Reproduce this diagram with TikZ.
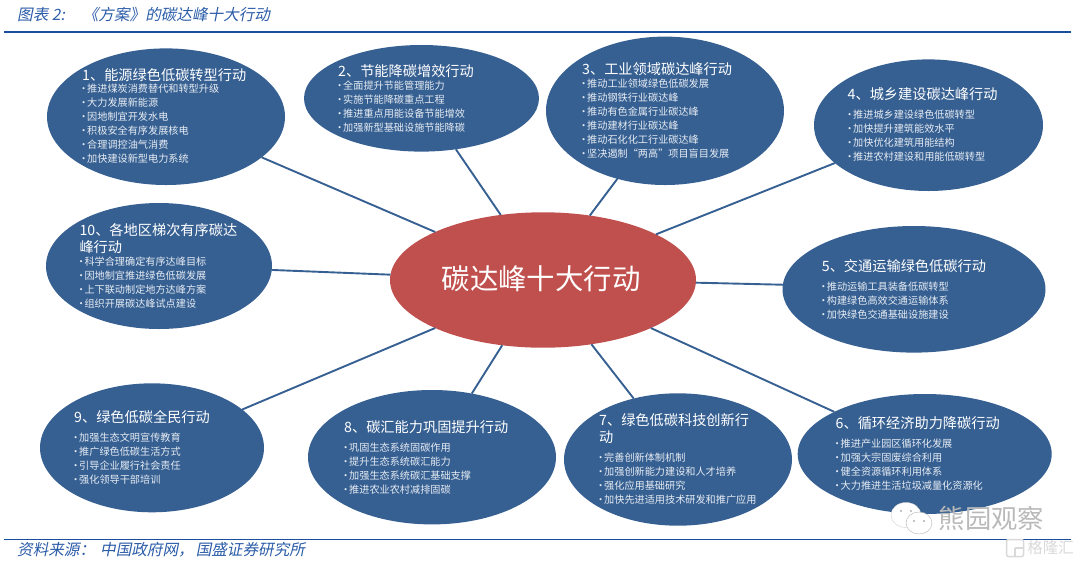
\documentclass[tikz,border=0pt]{standalone}
\usepackage{fontspec}
\setmainfont{Noto Sans CJK SC}
\newfontfamily\slantfont[FakeSlant=0.2]{Noto Sans CJK SC}
\usetikzlibrary{shapes.geometric, positioning}
\definecolor{blobblue}{HTML}{376092}
\definecolor{hubred}{HTML}{C0504D}
\definecolor{ruleblue}{HTML}{1A4F9F}
\definecolor{titleblue}{HTML}{2A5CA8}
\definecolor{bodywhite}{HTML}{E6ECF3}
\newcommand{\bu}{\makebox[5pt][l]{\hspace{-3.5pt}•}}

\begin{document}
\begin{tikzpicture}[x=1pt, y=-1pt,
	action/.style = {ellipse, fill=blobblue, inner sep=0pt, outer sep=0pt},
	hub/.style = {action, fill=hubred},
	headtext/.style = {anchor=west, align=left, inner sep=0pt, text=white, font=\fontsize{14.2}{17}\selectfont},
	bodytext/.style = {anchor=west, align=left, inner sep=0pt, text=bodywhite, font=\fontsize{10.15}{14}\selectfont},
	spoke/.style = {draw=blobblue, line width=1.9pt},
	sheetrule/.style = {draw=ruleblue, line width=1.8pt},
	caption/.style = {anchor=west, inner sep=0pt, text=titleblue, font=\fontsize{15.6}{17}\slantfont}]

\useasboundingbox (0,0) rectangle (1080,566);

% caption and rules
\node[caption] (title) at (17,15) {图表 2:\hspace{18pt}《方案》的碳达峰十大行动};
\coordinate (ruleTL) at (4,32);
\coordinate (ruleTR) at (1071,32);
\coordinate (ruleBL) at (4,539.5);
\coordinate (ruleBR) at (1071,539.5);
\draw[sheetrule] (ruleTL) -- (ruleTR);
\draw[sheetrule] (ruleBL) -- (ruleBR);
\node[caption] (source) at (17,550) {资料来源\char"FF1A\hspace{5pt}中国政府网\char"FF0C\hspace{2pt}国盛证券研究所};

% ellipses
\node[hub, minimum width=306pt, minimum height=135.4pt] (C) at (543,280) {};
\node[action, minimum width=238pt, minimum height=136.6pt] (E1) at (166,116.7) {};
\node[action, minimum width=235pt, minimum height=106.6pt] (E2) at (421.5,98.3) {};
\node[action, minimum width=238pt, minimum height=148.4pt] (E3) at (665,110.8) {};
\node[action, minimum width=229pt, minimum height=131.6pt] (E4) at (928.5,125.2) {};
\node[action, minimum width=263pt, minimum height=126.6pt] (E5) at (914,289.3) {};
\node[action, minimum width=254pt, minimum height=120pt] (E6) at (924.7,454) {};
\node[action, minimum width=228pt, minimum height=132.4pt] (E7) at (678,459.5) {};
\node[action, minimum width=248pt, minimum height=134.4pt] (E8) at (432,457.2) {};
\node[action, minimum width=224pt, minimum height=129pt] (E9) at (152,447.8) {};
\node[action, minimum width=226pt, minimum height=126pt] (E10) at (159,266) {};

% connectors
\draw[spoke] (E1.-23.1) -- (C.156.4);
\draw[spoke] (E2.-56.4) -- (C.123.7);
\draw[spoke] (E3.-125.7) -- (C.54.4);
\draw[spoke] (E4.-158.1) -- (C.22);
\draw[spoke] (E5.178.6) -- (C.-1.4);
\draw[spoke] (E6.155.5) -- (C.-24.5);
\draw[spoke] (E7.126.5) -- (C.-53.1);
\draw[spoke] (E8.58.2) -- (C.-122.2);
\draw[spoke] (E9.23.4) -- (C.-156.8);
\draw[spoke] (E10.-2) -- (C.178);

% centre text
\node[text=white, inner sep=0pt, font=\fontsize{28.4}{32}\selectfont] (Ctext) at (541,278.5) {碳达峰十大行动};

% texts in the ellipses
\node[headtext] (H1) at (82,75) {1、能源绿色低碳转型行动};
\node[bodytext] (B1) at (82,124) {\bu 推进煤炭消费替代和转型升级\\\bu 大力发展新能源\\\bu 因地制宜开发水电\\\bu 积极安全有序发展核电\\\bu 合理调控油气消费\\\bu 加快建设新型电力系统};

\node[headtext] (H2) at (338,70.7) {2、节能降碳增效行动};
\node[bodytext] (B2) at (338,106.3) {\bu 全面提升节能管理能力\\\bu 实施节能降碳重点工程\\\bu 推进重点用能设备节能增效\\\bu 加强新型基础设施节能降碳};

\node[headtext] (H3) at (582,69.3) {3、工业领域碳达峰行动};
\node[bodytext] (B3) at (582,118.3) {\bu 推动工业领域绿色低碳发展\\\bu 推动钢铁行业碳达峰\\\bu 推动有色金属行业碳达峰\\\bu 推动建材行业碳达峰\\\bu 推动石化化工行业碳达峰\\\bu 坚决遏制“两高”项目盲目发展};

\node[headtext] (H4) at (847.5,94) {4、城乡建设碳达峰行动};
\node[bodytext] (B4) at (848,136) {\bu 推进城乡建设绿色低碳转型\\\bu 加快提升建筑能效水平\\\bu 加快优化建筑用能结构\\\bu 推进农村建设和用能低碳转型};

\node[headtext] (H5) at (821.7,265.7) {5、交通运输绿色低碳行动};
\node[bodytext] (B5) at (821.7,300.3) {\bu 推动运输工具装备低碳转型\\\bu 构建绿色高效交通运输体系\\\bu 加快绿色交通基础设施建设};

\node[headtext] (H6) at (835.5,423.3) {6、循环经济助力降碳行动};
\node[bodytext] (B6) at (835.5,465) {\bu 推进产业园区循环化发展\\\bu 加强大宗固废综合利用\\\bu 健全资源循环利用体系\\\bu 大力推进生活垃圾减量化资源化};

\node[headtext] (H7) at (599,428.6) {7、绿色低碳科技创新行\\动};
\node[bodytext] (B7) at (599,479) {\bu 完善创新体制机制\\\bu 加强创新能力建设和人才培养\\\bu 强化应用基础研究\\\bu 加快先进适用技术研发和推广应用};

\node[headtext] (H8) at (344,427.3) {8、碳汇能力巩固提升行动};
\node[bodytext] (B8) at (344,468.7) {\bu 巩固生态系统固碳作用\\\bu 提升生态系统碳汇能力\\\bu 加强生态系统碳汇基础支撑\\\bu 推进农业农村减排固碳};

\node[headtext] (H9) at (74,416.7) {9、绿色低碳全民行动};
\node[bodytext] (B9) at (74,458.7) {\bu 加强生态文明宣传教育\\\bu 推广绿色低碳生活方式\\\bu 引导企业履行社会责任\\\bu 强化领导干部培训};

\node[headtext] (H10) at (79.3,239) {10、各地区梯次有序碳达\\峰行动};
\node[bodytext] (B10) at (79.3,282.7) {\bu 科学合理确定有序达峰目标\\\bu 因地制宜推进绿色低碳发展\\\bu 上下联动制定地方达峰方案\\\bu 组织开展碳达峰试点建设};

% watermark
\node[ellipse, fill=white, draw=gray!35, inner sep=0pt, minimum width=30pt, minimum height=25pt] (W1) at (906,515) {};
\node[ellipse, fill=white, draw=gray!60, inner sep=0pt, minimum width=26pt, minimum height=22pt] (W2) at (919,523) {};
\fill[gray!60] (901,511) circle (1.2) (911,511) circle (1.2) (914,521) circle (1.2) (924,521) circle (1.2);
\node[inner sep=0pt, text=gray!55, font=\fontsize{26.3}{28}\selectfont] (Wtext) at (991.5,518) {熊园观察};
\node[inner sep=0pt, text=gray!30, font=\fontsize{15.5}{17}\selectfont] (Gtext) at (1050.5,548) {格隆汇};
\node[draw=gray!30, line width=1.5pt, rounded corners=2pt, inner sep=0pt, minimum size=17pt] (Glogo) at (1015,548) {};
\draw[gray!30, line width=1.5pt] (Glogo.center) -- (Glogo.east) (Glogo.center) -- (Glogo.south);
\end{tikzpicture}
\end{document}
